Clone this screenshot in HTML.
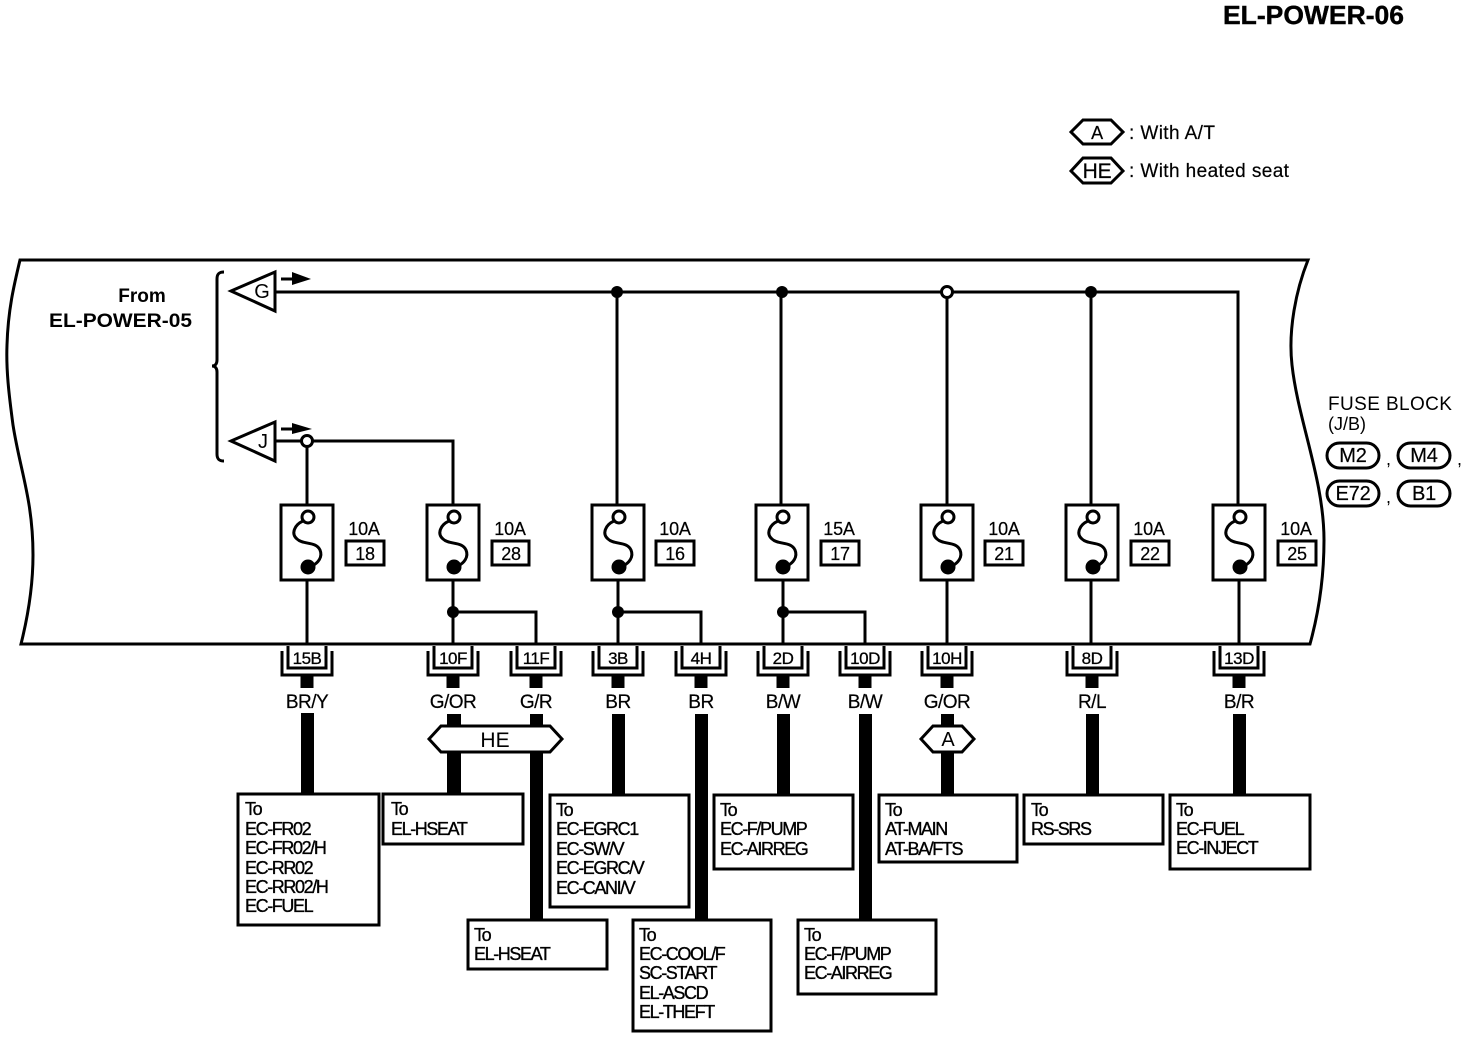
<!DOCTYPE html>
<html><head><meta charset="utf-8"><style>
html,body{margin:0;padding:0;background:#fff}
svg{display:block}
text{font-family:"Liberation Sans",sans-serif;fill:#000}
.t{font-size:18px;letter-spacing:-1.4px;stroke:#000;stroke-width:.35px}
.w{font-size:19px;text-anchor:middle;letter-spacing:-.5px;stroke:#000;stroke-width:.2px}
.c{font-size:17px;text-anchor:middle;letter-spacing:-.5px;stroke:#000;stroke-width:.3px}
.a{font-size:18px;text-anchor:middle;letter-spacing:-.2px;stroke:#000;stroke-width:.2px}
.l{font-size:19px;letter-spacing:.4px;stroke:#000;stroke-width:.2px}
.n{fill:none;stroke:#000;stroke-width:3}
.f{fill:#fff;stroke:#000;stroke-width:3}
.k{fill:#000;stroke:none}
</style></head><body>
<svg width="1472" height="1040" viewBox="0 0 1472 1040" xmlns="http://www.w3.org/2000/svg">
<defs>
<g id="fuse">
<rect class="f" x="-26" y="505" width="52" height="75"/>
<path class="n" d="M-4 521C-13 525-16 534-10 539C-4 545 9 541 13 550C16 557 11 563 5 566"/>
<circle class="f" cx="1" cy="517" r="6"/>
<circle class="k" cx="1" cy="567" r="7.5"/>
</g>
<g id="conn">
<path class="n" d="M-25 651V675H25V651"/>
<path class="n" d="M-19 646V668H19V646"/>
<rect class="k" x="-6.500" y="676" width="13" height="12"/>
</g>
</defs>

<text x="1223" y="24" font-size="26" font-weight="bold" textLength="181" lengthAdjust="spacingAndGlyphs" stroke="#000" stroke-width=".4">EL-POWER-06</text>

<!-- legend -->
<path class="f" d="M1071 132L1083 120H1111L1123 132L1111 144H1083Z"/>
<text class="a" x="1097" y="139" font-size="20">A</text>
<text class="l" x="1129" y="139">: With A/T</text>
<path class="f" d="M1071 171L1083 158H1111L1123 171L1111 183H1083Z"/>
<text class="a" x="1097" y="178" style="font-size:21px">HE</text>
<text class="l" x="1129" y="177">: With heated seat</text>

<!-- frame -->
<path class="n" d="M20 260H1308C1296 290 1288 330 1292 365C1298 420 1324 480 1324 540C1324 580 1318 615 1310 644H21C27 620 33 590 33 555C33 500 20 470 13 425C9 395 6 370 7 345C8 310 14 285 20 260Z"/>

<text x="142" y="302" font-size="19" font-weight="bold" text-anchor="middle">From</text>
<text x="49" y="327" font-size="19" font-weight="bold" textLength="143" lengthAdjust="spacingAndGlyphs">EL-POWER-05</text>

<!-- brace -->
<path class="n" d="M224 272C219 272 217 274 217 279V360C217 364 215 366 212 366C215 366 217 368 217 372V454C217 459 219 461 224 461"/>

<!-- triangles -->
<path class="f" d="M231 291L275 272V311Z"/>
<text x="262" y="298" font-size="20" text-anchor="middle">G</text>
<path class="f" d="M231 441L275 422V461Z"/>
<text x="263" y="448" font-size="20" text-anchor="middle">J</text>
<path d="M281 279H296" class="n"/><path class="k" d="M292 272L311 279L292 285Z"/>
<path d="M281 429H296" class="n"/><path class="k" d="M292 423L312 429L292 434Z"/>

<!-- wires -->
<path class="n" d="M275 292H1238V505"/>
<path class="n" d="M617 292V505M781 292V505M947 292V505M1091 292V505"/>
<path class="n" d="M275 441H453V505M307 441V505"/>
<circle class="k" cx="617" cy="292" r="6"/>
<circle class="k" cx="782" cy="292" r="6"/>
<circle class="f" cx="947" cy="292" r="5.500" stroke-width="2.500"/>
<circle class="k" cx="1091" cy="292" r="6"/>
<circle class="f" cx="307" cy="441" r="5.500" stroke-width="2.500"/>

<path class="n" d="M307 580V645M453 580V645M618 580V645M783 580V645M947 580V645M1091 580V645M1239 580V645"/>
<path class="n" d="M453 612H536V645M618 612H701V645M783 612H865V645"/>
<circle class="k" cx="453" cy="612" r="6"/>
<circle class="k" cx="618" cy="612" r="6"/>
<circle class="k" cx="783" cy="612" r="6"/>

<!-- fuses -->
<use href="#fuse" x="307"/><use href="#fuse" x="453"/><use href="#fuse" x="618"/><use href="#fuse" x="782"/><use href="#fuse" x="947"/><use href="#fuse" x="1092"/><use href="#fuse" x="1239"/>

<g class="rate">
<text class="a" x="364" y="535">10A</text><rect class="n" x="346" y="541" width="38" height="24"/><text class="a" x="365" y="560">18</text>
<text class="a" x="510" y="535">10A</text><rect class="n" x="492" y="541" width="37" height="24"/><text class="a" x="511" y="560">28</text>
<text class="a" x="675" y="535">10A</text><rect class="n" x="656" y="541" width="38" height="24"/><text class="a" x="675" y="560">16</text>
<text class="a" x="839" y="535">15A</text><rect class="n" x="821" y="541" width="38" height="24"/><text class="a" x="840" y="560">17</text>
<text class="a" x="1004" y="535">10A</text><rect class="n" x="985" y="541" width="38" height="24"/><text class="a" x="1004" y="560">21</text>
<text class="a" x="1149" y="535">10A</text><rect class="n" x="1131" y="541" width="38" height="24"/><text class="a" x="1150" y="560">22</text>
<text class="a" x="1296" y="535">10A</text><rect class="n" x="1278" y="541" width="38" height="24"/><text class="a" x="1297" y="560">25</text>
</g>

<!-- fuse block -->
<text x="1328" y="410" font-size="19" letter-spacing=".4">FUSE BLOCK</text>
<text x="1328" y="430" font-size="18">(J/B)</text>
<rect class="n" x="1327" y="443" width="52" height="25" rx="12.500"/><text class="a" x="1353" y="462" style="font-size:20px">M2</text>
<rect class="n" x="1398" y="443" width="52" height="25" rx="12.500"/><text class="a" x="1424" y="462" style="font-size:20px">M4</text>
<rect class="n" x="1327" y="481" width="52" height="25" rx="12.500"/><text class="a" x="1353" y="500" style="font-size:20px">E72</text>
<rect class="n" x="1398" y="481" width="52" height="25" rx="12.500"/><text class="a" x="1424" y="500" style="font-size:20px">B1</text>
<text x="1386" y="465" font-size="18">,</text><text x="1457" y="465" font-size="18">,</text>
<text x="1386" y="503" font-size="18">,</text>

<!-- connectors -->
<use href="#conn" x="307"/><use href="#conn" x="453"/><use href="#conn" x="536"/><use href="#conn" x="618"/><use href="#conn" x="701"/><use href="#conn" x="783"/><use href="#conn" x="865"/><use href="#conn" x="947"/><use href="#conn" x="1092"/><use href="#conn" x="1239"/>
<text class="c" x="307" y="664">15B</text><text class="c" x="453" y="664">10F</text><text class="c" x="536" y="664">11F</text><text class="c" x="618" y="664">3B</text><text class="c" x="701" y="664">4H</text><text class="c" x="783" y="664">2D</text><text class="c" x="865" y="664">10D</text><text class="c" x="947" y="664">10H</text><text class="c" x="1092" y="664">8D</text><text class="c" x="1239" y="664">13D</text>

<text class="w" x="307" y="708">BR/Y</text><text class="w" x="453" y="708">G/OR</text><text class="w" x="536" y="708">G/R</text><text class="w" x="618" y="708">BR</text><text class="w" x="701" y="708">BR</text><text class="w" x="783" y="708">B/W</text><text class="w" x="865" y="708">B/W</text><text class="w" x="947" y="708">G/OR</text><text class="w" x="1092" y="708">R/L</text><text class="w" x="1239" y="708">B/R</text>

<!-- thick wires -->
<rect class="k" x="301" y="713" width="13" height="82"/>
<rect class="k" x="447" y="714" width="14" height="82"/>
<rect class="k" x="530" y="714" width="13" height="206"/>
<rect class="k" x="612" y="714" width="13" height="82"/>
<rect class="k" x="695" y="714" width="13" height="206"/>
<rect class="k" x="777" y="714" width="13" height="82"/>
<rect class="k" x="859" y="714" width="13" height="206"/>
<rect class="k" x="941" y="714" width="13" height="82"/>
<rect class="k" x="1086" y="714" width="13" height="82"/>
<rect class="k" x="1233" y="714" width="13" height="82"/>

<path class="f" d="M429 739L441 726H550L562 739L550 752H441Z"/>
<rect class="k" x="530" y="752" width="13" height="6"/>
<text x="495" y="747" font-size="21" text-anchor="middle">HE</text>
<path class="f" d="M921 739L933 726H962L974 739L962 752H933Z"/>
<text x="948" y="746" font-size="20" text-anchor="middle">A</text>

<!-- boxes -->
<rect class="f" x="238" y="794" width="141" height="131"/>
<text class="t"><tspan x="245" y="815">To</tspan><tspan x="245" y="835">EC-FR02</tspan><tspan x="245" y="854">EC-FR02/H</tspan><tspan x="245" y="874">EC-RR02</tspan><tspan x="245" y="893">EC-RR02/H</tspan><tspan x="245" y="912">EC-FUEL</tspan></text>
<rect class="f" x="383" y="794" width="140" height="50"/>
<text class="t"><tspan x="391" y="815">To</tspan><tspan x="391" y="835">EL-HSEAT</tspan></text>
<rect class="f" x="550" y="795" width="139" height="112"/>
<text class="t"><tspan x="556" y="816">To</tspan><tspan x="556" y="835">EC-EGRC1</tspan><tspan x="556" y="855">EC-SW/V</tspan><tspan x="556" y="874">EC-EGRC/V</tspan><tspan x="556" y="894">EC-CANI/V</tspan></text>
<rect class="f" x="714" y="795" width="139" height="74"/>
<text class="t"><tspan x="720" y="816">To</tspan><tspan x="720" y="835">EC-F/PUMP</tspan><tspan x="720" y="855">EC-AIRREG</tspan></text>
<rect class="f" x="879" y="795" width="138" height="67"/>
<text class="t"><tspan x="885" y="816">To</tspan><tspan x="885" y="835">AT-MAIN</tspan><tspan x="885" y="855">AT-BA/FTS</tspan></text>
<rect class="f" x="1024" y="795" width="139" height="49"/>
<text class="t"><tspan x="1031" y="816">To</tspan><tspan x="1031" y="835">RS-SRS</tspan></text>
<rect class="f" x="1170" y="795" width="140" height="74"/>
<text class="t"><tspan x="1176" y="816">To</tspan><tspan x="1176" y="835">EC-FUEL</tspan><tspan x="1176" y="854">EC-INJECT</tspan></text>
<rect class="f" x="468" y="920" width="139" height="49"/>
<text class="t"><tspan x="474" y="941">To</tspan><tspan x="474" y="960">EL-HSEAT</tspan></text>
<rect class="f" x="633" y="920" width="138" height="111"/>
<text class="t"><tspan x="639" y="941">To</tspan><tspan x="639" y="960">EC-COOL/F</tspan><tspan x="639" y="979">SC-START</tspan><tspan x="639" y="999">EL-ASCD</tspan><tspan x="639" y="1018">EL-THEFT</tspan></text>
<rect class="f" x="798" y="920" width="138" height="74"/>
<text class="t"><tspan x="804" y="941">To</tspan><tspan x="804" y="960">EC-F/PUMP</tspan><tspan x="804" y="979">EC-AIRREG</tspan></text>
</svg>
</body></html>
